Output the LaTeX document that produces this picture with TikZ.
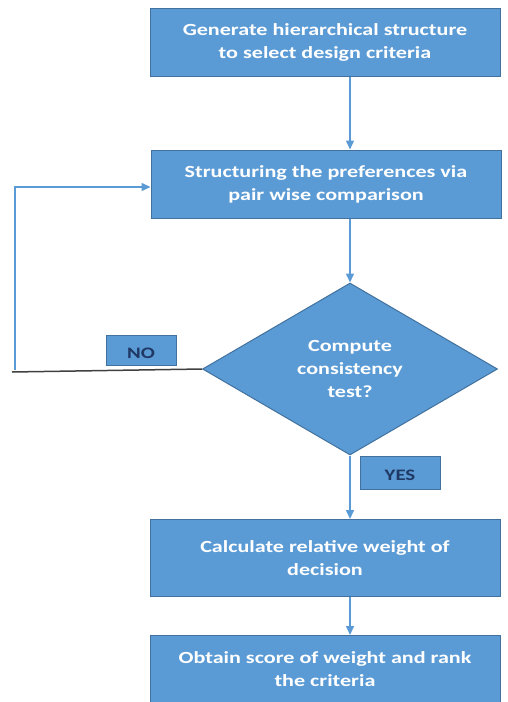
\documentclass[tikz,border=0pt]{standalone}
\usepackage{fontspec}
\setmainfont{Carlito}
\newfontfamily\boxfont[FakeStretch=1.3]{Carlito}
\usetikzlibrary{shapes.geometric,arrows.meta}

\definecolor{boxblue}{HTML}{5B9BD5}
\definecolor{boxedge}{HTML}{41719C}
\definecolor{labeltext}{HTML}{1F3864}

\begin{document}
\begin{tikzpicture}[x=1pt,y=-1pt,
  stepbox/.style={draw=boxedge,fill=boxblue,line width=1pt,minimum width=350pt,
    minimum height=68pt,text=white,align=center,font=\boxfont\bfseries\fontsize{17}{23}\selectfont},
  test/.style={diamond,draw=boxedge,fill=boxblue,line width=1pt,aspect=1.7,
    minimum width=295pt,minimum height=172pt,inner sep=0pt,text=white,align=center,
    font=\boxfont\bfseries\fontsize{17}{23}\selectfont},
  tag/.style={draw=boxedge,fill=boxblue,line width=1pt,text=labeltext,text depth=0pt,
    font=\boxfont\bfseries\fontsize{16}{16}\selectfont},
  flow/.style={draw=boxblue,line width=1.5pt,-{Triangle[length=9pt,width=8pt]}}]
  \useasboundingbox (0,0) rectangle (507,702);

  \node[stepbox] (gen) at (325,42) {Generate hierarchical structure\\to select design criteria};
  \node[stepbox] (pref) at (326,184) {Structuring the preferences via\\pair wise comparison};
  \node[test] (cons) at (350,369) {Compute\\consistency\\test?};
  \node[stepbox,minimum height=77pt] (calc) at (325,558) {Calculate relative weight of\\decision};
  \node[stepbox,minimum height=67pt] (score) at (325,669) {Obtain score of weight and rank\\the criteria};

  \node[tag,minimum width=70pt,minimum height=30pt] (no) at (141,350) {\raisebox{-6pt}{NO}};
  \node[tag,minimum width=80pt,minimum height=33pt] (yes) at (400,473) {\raisebox{-5pt}{YES}};

  \coordinate (left) at (12,372);
  \coordinate (up) at (15,187);

  \draw[flow] (gen.south -| cons.north) -- (pref.north -| cons.north);
  \draw[flow] (pref.south -| cons.north) -- (cons.north);
  \draw[flow] (cons.south) -- (calc.north -| cons.south);
  \draw[flow] (calc.south -| cons.south) -- (score.north -| cons.south);

  \draw[black!75,line width=1.5pt] (cons.west) -- (left);
  \draw[flow] (15,370) -- (up) -- (pref.west |- up);
\end{tikzpicture}
\end{document}
